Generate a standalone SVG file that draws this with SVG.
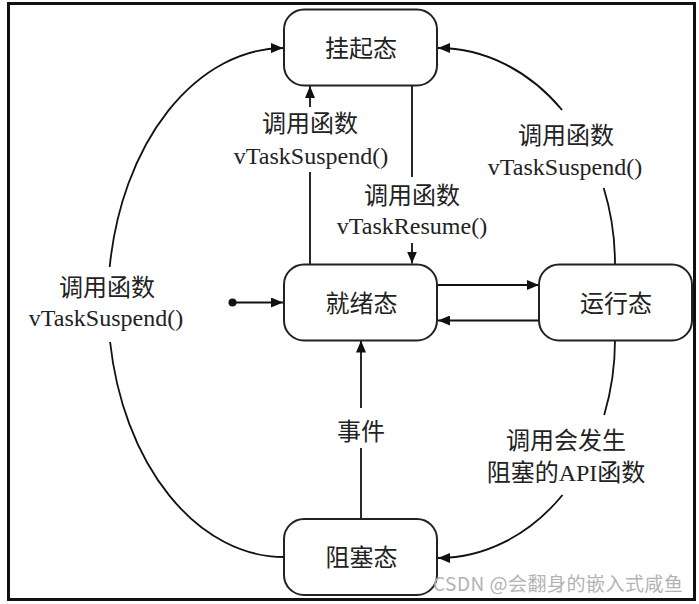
<svg xmlns="http://www.w3.org/2000/svg" width="699" height="604" viewBox="0 0 699 604">
<defs>
<marker id="arr" markerUnits="userSpaceOnUse" markerWidth="12" markerHeight="10" refX="12" refY="5" orient="auto" viewBox="0 0 12 10">
<path d="M0,0 L12,5 L0,10 z" fill="#111"/>
</marker>
<style>
.node rect{fill:#fff;stroke:#222;stroke-width:2}
.node text,.lbl{font-family:"Liberation Serif","Noto Sans CJK SC",serif;font-size:24px;fill:#222;text-anchor:middle}
.cn{font-family:"Noto Sans CJK SC","Liberation Serif",sans-serif}
.edges path{fill:none;stroke:#111;stroke-width:1.8}
.arrow{marker-end:url(#arr)}
</style>
</defs>
<rect x="0" y="0" width="699" height="604" fill="#fff"/>
<rect x="8.5" y="3.5" width="686" height="596" fill="none" stroke="#111" stroke-width="3"/>

<g class="edges" id="connectors">
<circle cx="232.5" cy="302.5" r="4" fill="#111"/>
<path class="arrow" d="M232,302.5 H283"/>
<path class="arrow" d="M437,285 H539"/>
<path class="arrow" d="M539,320.5 H438"/>
<path d="M310,264 V172"/>
<path class="arrow" d="M310,107 V86"/>
<path d="M412,85 V177"/>
<path class="arrow" d="M412,243 V263.5"/>
<path d="M361,518 V448"/>
<path class="arrow" d="M361,408 V340.5"/>
<path class="arrow" d="M109.7,267 A176,254.5 0 0,1 283,48"/>
<path d="M284,557 A176,254.5 0 0,1 110.1,342"/>
<path d="M615,264 A177,216 0 0,0 603.7,188"/>
<path class="arrow" d="M562.1,110 A177,216 0 0,0 438,48"/>
<path d="M615,340 A177,218 0 0,1 604.2,415"/>
<path class="arrow" d="M562.5,495 A177,218 0 0,1 438,558"/>
</g>

<g class="labels" id="edge-labels">
<text class="lbl cn" x="310" y="132">调用函数</text>
<text class="lbl" x="311" y="164">vTaskSuspend()</text>
<text class="lbl cn" x="412" y="204">调用函数</text>
<text class="lbl" x="412" y="234">vTaskResume()</text>
<text class="lbl cn" x="107" y="296">调用函数</text>
<text class="lbl" x="106" y="326">vTaskSuspend()</text>
<text class="lbl cn" x="566" y="144">调用函数</text>
<text class="lbl" x="565" y="175">vTaskSuspend()</text>
<text class="lbl cn" x="361" y="440">事件</text>
<text class="lbl cn" x="566" y="449">调用会发生</text>
<text class="lbl cn" x="566" y="481">阻塞的<tspan font-family="Liberation Serif">API</tspan>函数</text>
</g>

<g class="node" id="suspended">
<rect x="284" y="9.5" width="153" height="76" rx="20"/>
<text class="cn" x="361" y="57">挂起态</text>
</g>
<g class="node" id="ready">
<rect x="284" y="264.5" width="153" height="76" rx="20"/>
<text class="cn" x="361.5" y="311.5">就绪态</text>
</g>
<g class="node" id="running">
<rect x="539" y="264.5" width="153" height="76" rx="20"/>
<text class="cn" x="616" y="311.5">运行态</text>
</g>
<g class="node" id="blocked">
<rect x="284" y="519" width="153" height="76" rx="20"/>
<text class="cn" x="361.5" y="566">阻塞态</text>
</g>

<text x="433" y="591" font-family="Noto Sans CJK SC,sans-serif" font-size="19" fill="#b3b3b3" textLength="250">CSDN @会翻身的嵌入式咸鱼</text>
</svg>
